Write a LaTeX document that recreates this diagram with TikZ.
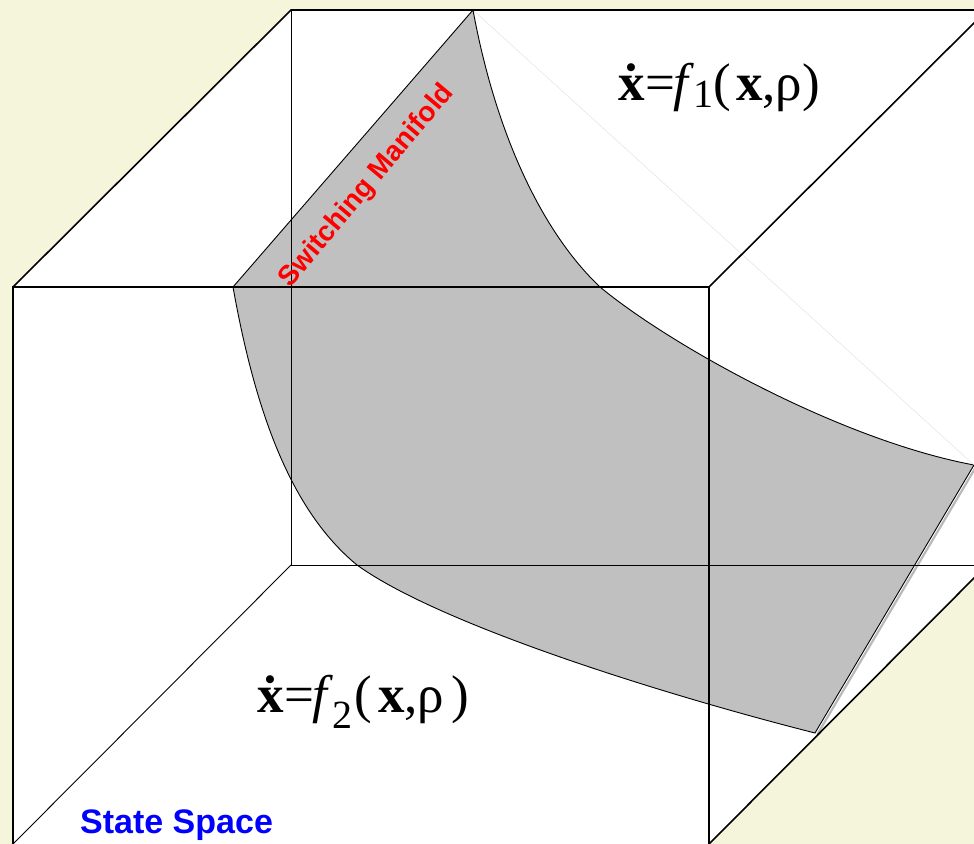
\documentclass[tikz,border=0pt]{standalone}
\usepackage{fontspec}
\setmainfont{Liberation Serif}
\newfontfamily\arialb[BoldFont={Liberation Sans Bold}]{Liberation Sans}
\definecolor{beige}{RGB}{245,245,220}
\definecolor{mangray}{RGB}{192,192,192}
\tikzset{
  thickedge/.style={line width=1.6pt, line join=miter},
  thinedge/.style={line width=0.9pt},
  manline/.style={line width=0.9pt},
  eqtext/.style={inner sep=0pt, anchor=base west, font=\fontsize{53}{53}\selectfont},
}
\begin{document}
\begin{tikzpicture}[x=1pt,y=-1pt]
\useasboundingbox (0,0) rectangle (974,843);
\clip (0,0) rectangle (974,843);
\fill[beige] (-5,-5) rectangle (980,850);
% cube corners
\coordinate (FTL) at (13,287);
\coordinate (FTR) at (709,287);
\coordinate (FBL) at (13,844);
\coordinate (FBR) at (709,844);
\coordinate (BTL) at (291,10);
\coordinate (BTR) at (987,10);
\coordinate (BBL) at (291,565);
\coordinate (BBR) at (987,565);
% silhouette
\fill[white] (FBL) -- (FTL) -- (BTL) -- (BTR) -- (BBR) -- (FBR) -- cycle;
% manifold
\coordinate (A) at (233,287);
\coordinate (B) at (473,10);
\coordinate (P) at (600,287);
\coordinate (C) at (974,465);
\coordinate (D) at (815,733);
\coordinate (Q) at (357,565);
\draw[gray!55, line width=2.2pt] ([xshift=2.5pt,yshift=-1pt]C) -- ([xshift=2.5pt,yshift=-1pt]D);
\filldraw[fill=mangray, draw=black, manline]
  (A) -- (B)
  .. controls (495,130) and (540,230) .. (P)
  .. controls (670,345) and (840,440) .. (C)
  -- (D)
  .. controls (665,695) and (440,625) .. (Q)
  .. controls (290,510) and (255,410) .. (A)
  -- cycle;
\draw[gray!25, line width=0.4pt] (B) -- (C);
% cube edges
\draw[thinedge] (BTL) -- (BBL) -- (BBR);
\draw[thinedge] (BBL) -- (FBL);
\draw[thickedge] (FBL) -- (FTL) -- (FTR) -- (FBR);
\draw[thickedge] (FTL) -- (BTL) -- (BTR);
\draw[thickedge] (FTR) -- (BTR);
\draw[thickedge] (FBR) -- (BBR);
% labels
\node[eqtext] (f1) at (618,100) {\bfseries\.x\mdseries\kern1pt=\kern-2pt\textit{f}\kern-1pt\raisebox{-7pt}{\fontsize{40}{40}\selectfont 1}(\kern5pt\textbf{x},ρ)};
\node[eqtext] (f2) at (257,712) {\bfseries\.x\mdseries\kern1pt=\kern-2pt\textit{f}\kern-1pt\raisebox{-16pt}{\fontsize{40}{40}\selectfont 2}\kern2pt(\kern6pt\textbf{x},ρ\kern7pt)};
\node[red, rotate=50, inner sep=0pt, font=\arialb\bfseries\fontsize{28}{28}\selectfont] (sm) at (367,186) {Switching Manifold};
\node[blue, inner sep=0pt, anchor=base west, font=\arialb\bfseries\fontsize{34}{34}\selectfont] (ss) at (80,833) {State Space};
\end{tikzpicture}
\end{document}
